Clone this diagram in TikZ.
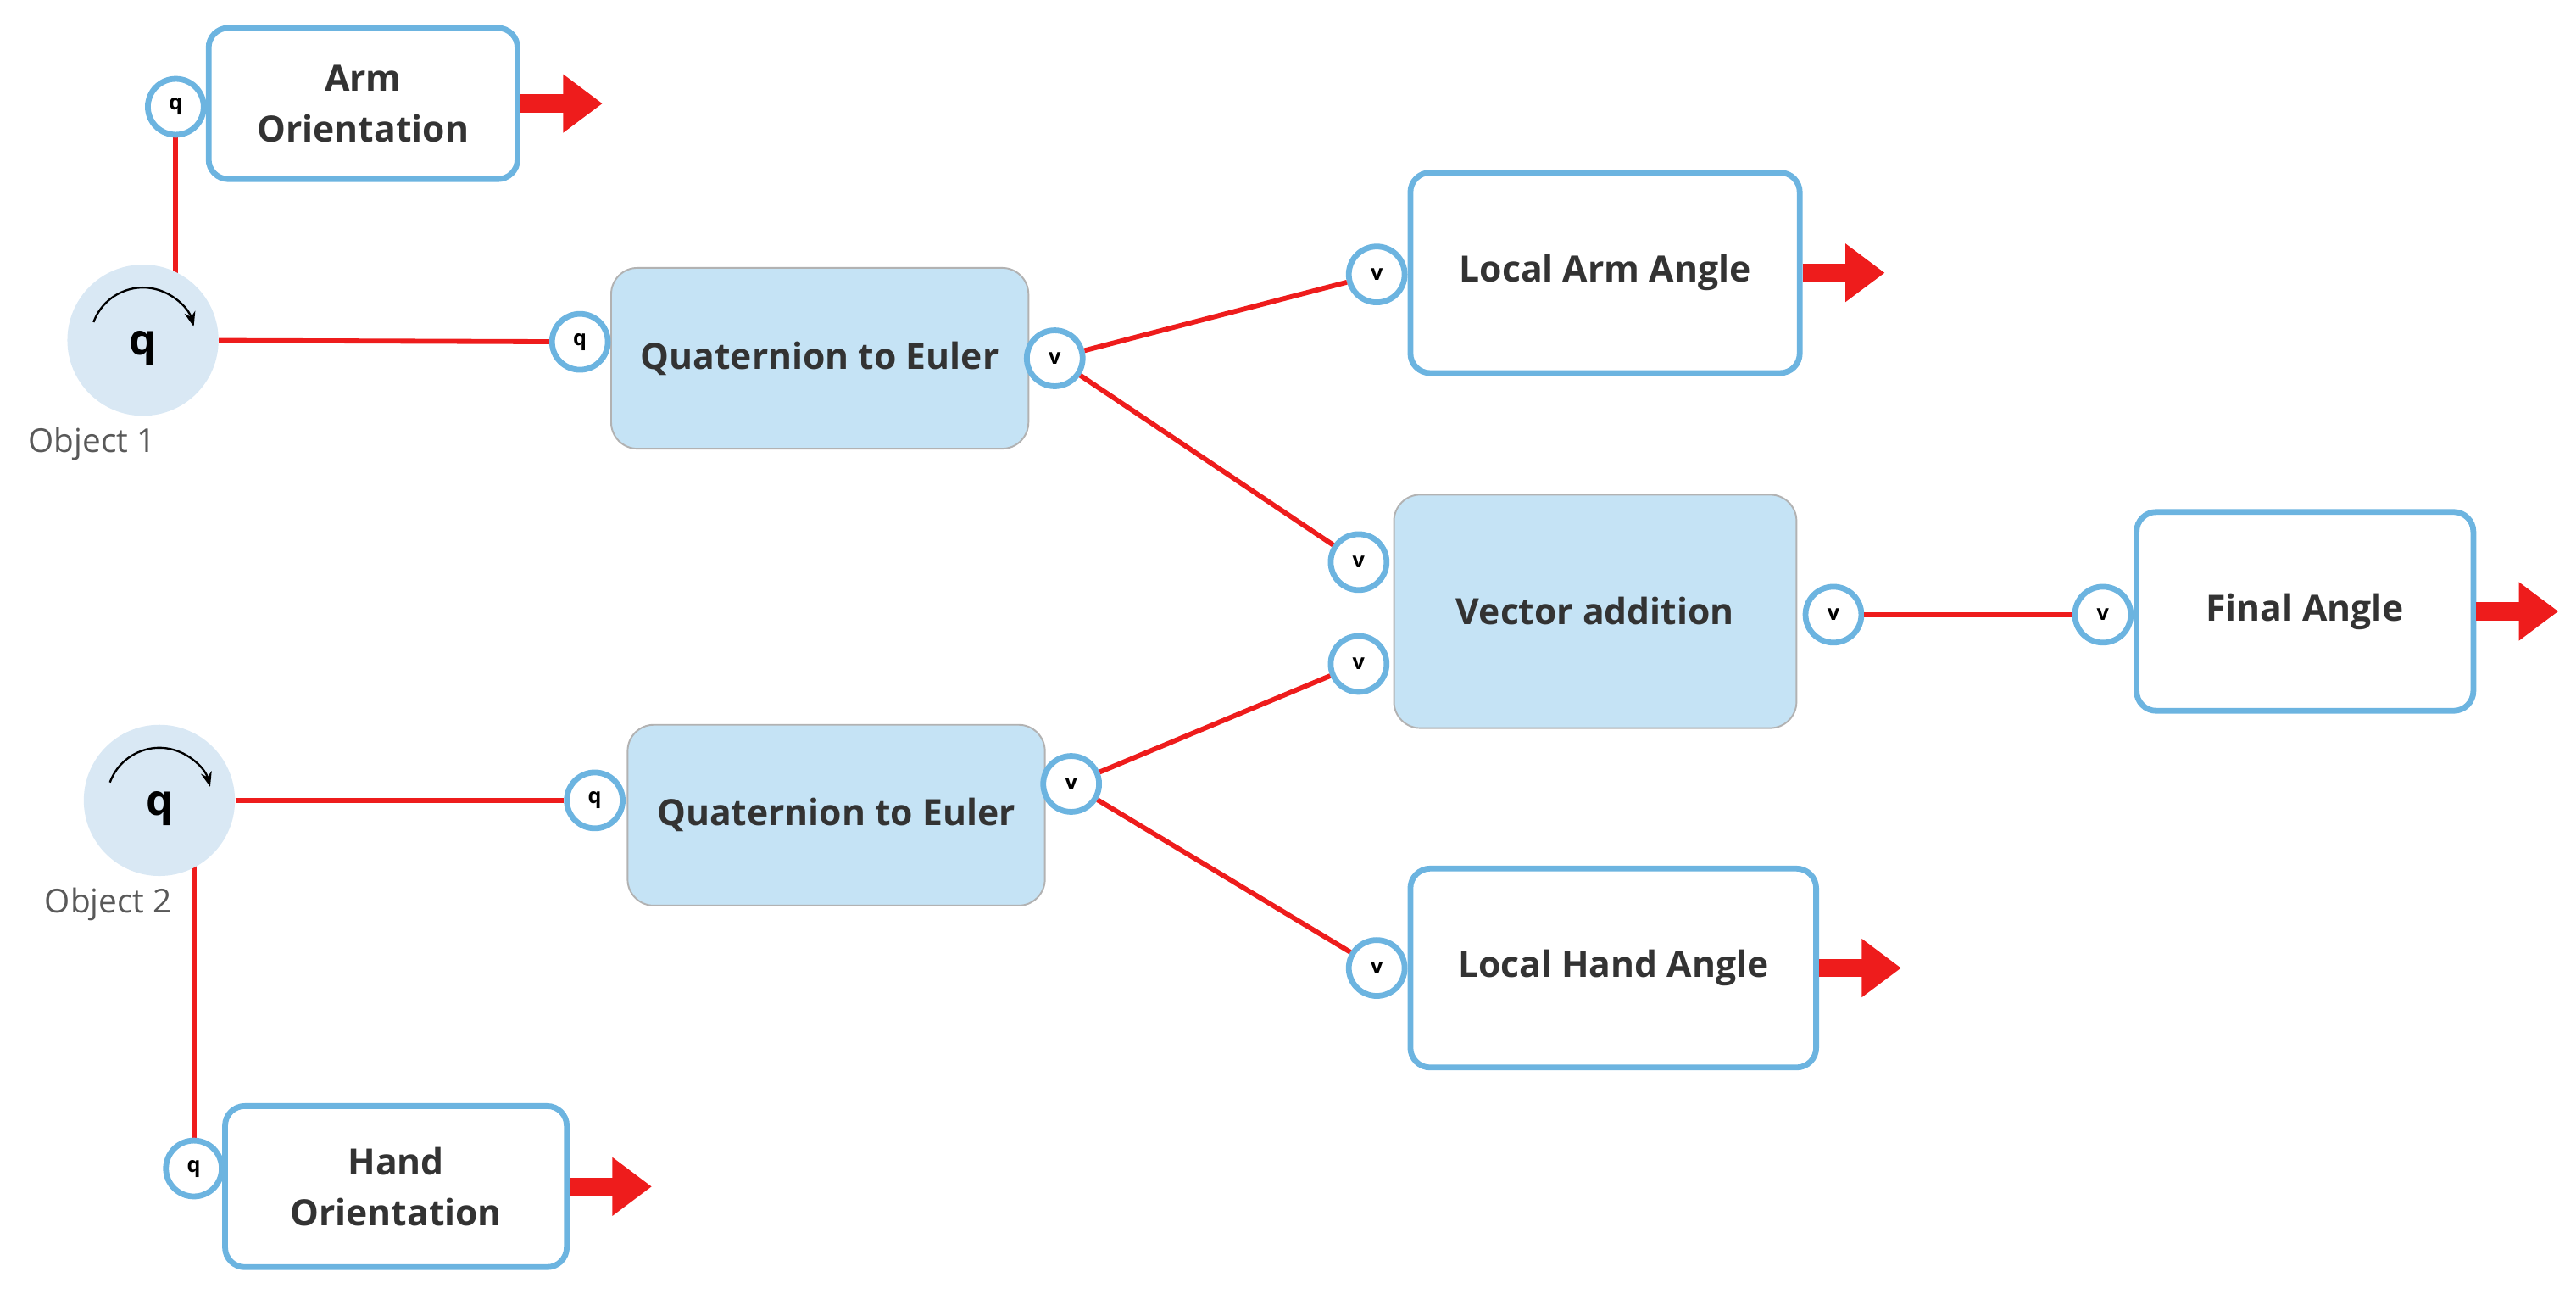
\documentclass[tikz,border=0pt]{standalone}
\usepackage{fontspec}
\setmainfont{Open Sans}
\usetikzlibrary{arrows.meta}
\definecolor{portblue}{HTML}{6CB4E0}
\definecolor{fillblue}{HTML}{C5E3F5}
\definecolor{objfill}{HTML}{D9E8F4}
\definecolor{wirered}{HTML}{EE1C1C}
\tikzset{
    box/.style={draw=portblue, line width=3.5pt, rounded corners=12pt, fill=white,
        font=\fontsize{22}{31}\selectfont\bfseries, text=black!80, align=center},
    op/.style={draw=black!30, line width=1pt, rounded corners=16pt, fill=fillblue,
        font=\fontsize{22}{31}\selectfont\bfseries, text=black!80},
    port/.style={circle, draw=portblue, line width=3.5pt, fill=white, minimum size=34pt,
        inner sep=0pt, font=\fontsize{13}{13}\selectfont\bfseries},
    obj/.style={circle, fill=objfill, minimum size=92pt, inner sep=0pt},
    wire/.style={draw=wirered, line width=3pt},
    output arrow/.style={draw=wirered, line width=11pt, -{Triangle[length=24pt,width=34pt]}}
}
\begin{document}
\begin{tikzpicture}[x=1pt, y=-1pt]

    \useasboundingbox (0,0) rectangle (1568,787);

    % wires first
    \coordinate (object 1 c) at (87,207);
    \coordinate (object 2 c) at (97,487);
    \coordinate (arm q c) at (107,65);
    \coordinate (hand q c) at (118,711);
    \draw[wire] (arm q c) -- (arm q c |- object 1 c);
    \draw[wire] (hand q c) -- (hand q c |- object 2 c);

    % objects
    \node[obj] (object 1) at (object 1 c) {};
    \node[font=\fontsize{20}{24}\selectfont, text=black!65] at (56,270) {Object 1};
    \node[obj] (object 2) at (object 2 c) {};
    \node[font=\fontsize{20}{24}\selectfont, text=black!65] at (66,550) {Object 2};
    \foreach \o in {object 1, object 2} {
        \node[font=\fontsize{26}{26}\selectfont\bfseries] at ([yshift=-5pt]\o.center) {q};
        \draw[line width=1.2pt, -{Stealth[length=9pt]}] ([shift={(-160:32)}]\o.center)
            arc[start angle=-160, end angle=-15, radius=32];
    }

    % boxes
    \node[box, minimum width=188pt, minimum height=92pt] (arm) at (221,63) {Arm\\Orientation};
    \node[box, minimum width=208pt, minimum height=98pt] (hand) at (241,722) {Hand\\Orientation};
    \node[op, minimum width=254pt, minimum height=110pt] (euler 1) at (499,218) {Quaternion to Euler};
    \node[op, minimum width=254pt, minimum height=110pt] (euler 2) at (509,496) {Quaternion to Euler};
    \node[box, minimum width=237pt, minimum height=122pt] (local arm) at (977,166) {Local Arm Angle};
    \node[op, minimum width=245pt, minimum height=142pt] (vector) at (971,372) {Vector addition};
    \node[box, minimum width=247pt, minimum height=121pt] (local hand) at (982,589) {Local Hand Angle};
    \node[box, minimum width=205pt, minimum height=121pt] (final) at (1403,372) {Final Angle};

    % ports
    \node[port] (arm q) at (arm q c) {q};
    \node[port] (hand q) at (hand q c) {q};
    \node[port] (euler 1 q) at (353,208) {q};
    \node[port] (euler 1 v) at (642,218) {v};
    \node[port] (euler 2 q) at (362,487) {q};
    \node[port] (euler 2 v) at (652,477) {v};
    \node[port] (local arm v) at (838,167) {v};
    \node[port] (vector v1) at (827,342) {v};
    \node[port] (vector v2) at (827,404) {v};
    \node[port] (vector out) at (1116,374) {v};
    \node[port] (final v) at (1280,374) {v};
    \node[port] (local hand v) at (838,589) {v};

    % wires
    \draw[wire] (object 1) -- (euler 1 q);
    \draw[wire] (object 2) -- (euler 2 q);
    \draw[wire] (euler 1 v) -- (local arm v);
    \draw[wire] (euler 1 v) -- (vector v1);
    \draw[wire] (euler 2 v) -- (vector v2);
    \draw[wire] (euler 2 v) -- (local hand v);
    \draw[wire] (vector out) -- (final v);

    % outputs
    \foreach \b in {arm, hand, local arm, local hand, final}
        \draw[output arrow] (\b.east) -- ++(50,0);

\end{tikzpicture}
\end{document}
